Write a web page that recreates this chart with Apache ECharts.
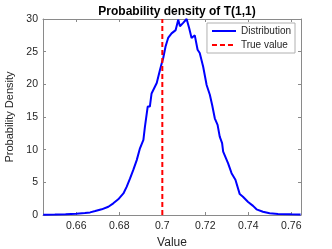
<!DOCTYPE html>
<html><head><meta charset="utf-8">
<script src="https://cdn.jsdelivr.net/npm/echarts@6/dist/echarts.min.js"></script>
<style>html,body{margin:0;padding:0;background:#fff}#c{width:332px;height:249px}</style>
</head><body><div id="c"></div>
<script>
var xValues = [0.6446,0.6500,0.6550,0.6600,0.6640,0.6664,0.6688,0.6718,0.6749,0.6772,0.6795,0.6819,0.6834,0.6850,0.6865,0.6881,0.6896,0.6912,0.6919,0.6932,0.6942,0.6950,0.6974,0.6989,0.6997,0.7004,0.7015,0.7027,0.7043,0.7062,0.7074,0.7082,0.7097,0.7113,0.7125,0.7136,0.7151,0.7164,0.7174,0.7190,0.7206,0.7221,0.7232,0.7244,0.7257,0.7267,0.7278,0.7283,0.7306,0.7322,0.7340,0.7360,0.7375,0.7399,0.7422,0.7438,0.7468,0.7499,0.7538,0.7600,0.7643];
var density = [0.05,0.07,0.1,0.18,0.3,0.4,0.6,0.87,1.27,1.79,2.4,3.3,4.3,5.6,6.9,8.4,10.2,11.5,13.5,16.6,16.6,18.6,20.2,22.2,23.2,24.0,25.8,27.1,27.8,28.3,29.9,28.9,29.4,30.0,28.6,27.1,27.5,25.3,24.8,22.7,19.9,18.4,16.8,14.8,13.8,12.0,11.0,9.7,7.9,6.4,5.4,3.2,2.8,2.0,1.4,0.87,0.5,0.26,0.15,0.1,0.08];
var trueValue = 0.7;
var xTicks = [0.66,0.68,0.70,0.72,0.74,0.76];
var xTickLabels = ['0.66','0.68','0.7','0.72','0.74','0.76'];
var yTicks = [0,5,10,15,20,25,30];
var xMin = 0.6445, xMax = 0.7645, yMin = 0, yMax = 30;

var axisCol = '#262626';
var lineCol = '#8a8a8a';
var font = 'Liberation Sans, Arial, sans-serif';
var pts = xValues.map(function(x,i){return [x, density[i]];});
var chart = echarts.init(document.getElementById('c'), null, {renderer:'canvas'});
function xAx(pos, show){
  return {type:'value', position:pos, min:xMin, max:xMax,
    name: show ? 'Value' : '', nameLocation:'middle', nameGap:21,
    nameTextStyle:{color:axisCol, fontSize:12, fontFamily:font},
    axisLine:{show:true, onZero:false, lineStyle:{color:lineCol, width:1}},
    axisTick:{show:true, inside:true, length:3, customValues:xTicks, lineStyle:{color:lineCol}},
    axisLabel:{show:show, customValues:xTicks, color:axisCol, fontSize:10.5, fontFamily:font, margin:6,
      formatter:function(v){var i=xTicks.findIndex(function(t){return Math.abs(t-v)<1e-9;});return i>=0?xTickLabels[i]:'';}},
    splitLine:{show:false}};
}
function yAx(pos, show){
  return {type:'value', position:pos, min:yMin, max:yMax, interval:5,
    name: show ? 'Probability Density' : '', nameLocation:'middle', nameGap:23,
    nameTextStyle:{color:axisCol, fontSize:11, fontFamily:font},
    axisLine:{show:true, onZero:false, lineStyle:{color:lineCol, width:1}},
    axisTick:{show:true, inside:true, length:3, lineStyle:{color:lineCol}},
    axisLabel:{show:show, color:axisCol, fontSize:10.5, fontFamily:font, margin:5},
    splitLine:{show:false}};
}
chart.setOption({
  animation:false,
  backgroundColor:'#fff',
  title:{text:'Probability density of T(1,1)', left:172, textAlign:'center', top:1,
    textStyle:{fontSize:12, fontWeight:'bold', color:'#000', fontFamily:font}},
  grid:{left:43, right:31, top:19, bottom:34, containLabel:false, outerBoundsMode:'none'},
  legend:{right:37, top:23, orient:'vertical', itemWidth:24, itemHeight:2, itemGap:4,
    padding:[3,4,3,4], borderColor:'#b0b0b0', borderWidth:1, backgroundColor:'#fff',
    textStyle:{fontSize:10, color:axisCol, fontFamily:font},
    data:[{name:'Distribution', icon:'rect'},{name:'True value'}]},
  xAxis:[xAx('bottom', true), xAx('top', false)],
  yAxis:[yAx('left', true), yAx('right', false)],
  series:[
    {name:'Distribution', type:'line', xAxisIndex:0, yAxisIndex:0, data:pts, showSymbol:false, symbol:'none',
      lineStyle:{color:'#0000ff', width:2}, itemStyle:{color:'#0000ff'}},
    {name:'True value', type:'line', xAxisIndex:0, yAxisIndex:0, data:[[trueValue,yMin],[trueValue,yMax]], showSymbol:false, symbol:'none',
      lineStyle:{color:'#ff0000', width:2, type:[5,3]}, itemStyle:{color:'#ff0000'}}
  ]
});
</script></body></html>
